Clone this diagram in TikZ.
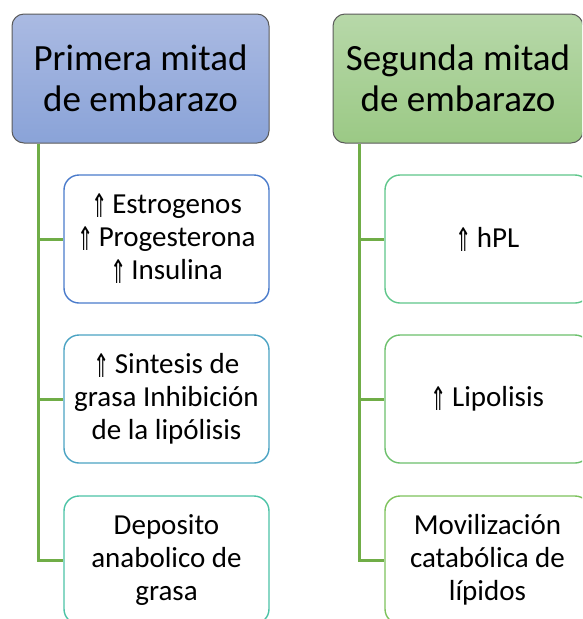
\documentclass[tikz,border=0pt]{standalone}
\usepackage{fontspec}
\usepackage{graphicx}
\setmainfont{Carlito}
\newfontfamily\symf{DejaVu Sans}
\definecolor{hbtop}{HTML}{AABAE2}
\definecolor{hbbot}{HTML}{8AA3D8}
\definecolor{hgtop}{HTML}{B7D8A9}
\definecolor{hgbot}{HTML}{9BC985}
\definecolor{hborder}{HTML}{5A5A5A}
\definecolor{conn}{HTML}{70AD47}
\definecolor{lb1}{HTML}{4A7BCB}
\definecolor{lb2}{HTML}{4BA3C3}
\definecolor{lb3}{HTML}{4CC3A6}
\definecolor{rb1}{HTML}{5EC68A}
\definecolor{rb2}{HTML}{6CC06C}
\definecolor{rb3}{HTML}{7DC25C}
\newcommand{\up}{\raisebox{-4pt}{\scalebox{0.75}[1.25]{\symf\fontsize{26}{26}\selectfont ⇑}}\,}
\tikzset{
  header/.style={draw=hborder, line width=1pt, rounded corners=12pt,
    minimum height=129pt, inner sep=0pt, align=center,
    font=\fontsize{37}{41}\selectfont},
  child/.style={draw=#1, line width=1.4pt, rounded corners=15pt, fill=white,
    minimum width=205pt, minimum height=128pt, inner sep=0pt, align=center,
    font=\fontsize{29}{33}\selectfont},
  conline/.style={draw=conn, line width=3pt}
}
\begin{document}
\begin{tikzpicture}[x=1pt,y=-1pt]
\useasboundingbox (0,0) rectangle (582,619);
\clip (0,0) rectangle (582,619);
% headers
\node[header, top color=hbtop, bottom color=hbbot, minimum width=257pt] (h1) at (140.5,78.5) {Primera mitad\\de embarazo};
\node[header, top color=hgtop, bottom color=hgbot, minimum width=250pt] (h2) at (458,78.5) {Segunda mitad\\de embarazo};
% left children
\node[child=lb1] (l1) at (166.5,239) {\up Estrogenos\\\up Progesterona\\\up Insulina};
\node[child=lb2] (l2) at (166.5,399) {\up Sintesis de\\grasa Inhibición\\de la lipólisis};
\node[child=lb3] (l3) at (166.5,560) {Deposito\\anabolico de\\grasa};
% right children
\node[child=rb1] (r1) at (487.5,239) {\up hPL};
\node[child=rb2] (r2) at (487.5,399) {\up Lipolisis};
\node[child=rb3] (r3) at (487.5,560) {Movilización\\catabólica de\\lípidos};
% connectors
\draw[conline] ([xshift=-102.5pt]h1.south) |- (l3.west);
\draw[conline] ([xshift=-102.5pt]h1.south |- l1.west) -- (l1.west);
\draw[conline] ([xshift=-102.5pt]h1.south |- l2.west) -- (l2.west);
\draw[conline] ([xshift=-99pt]h2.south) |- (r3.west);
\draw[conline] ([xshift=-99pt]h2.south |- r1.west) -- (r1.west);
\draw[conline] ([xshift=-99pt]h2.south |- r2.west) -- (r2.west);
\end{tikzpicture}
\end{document}
